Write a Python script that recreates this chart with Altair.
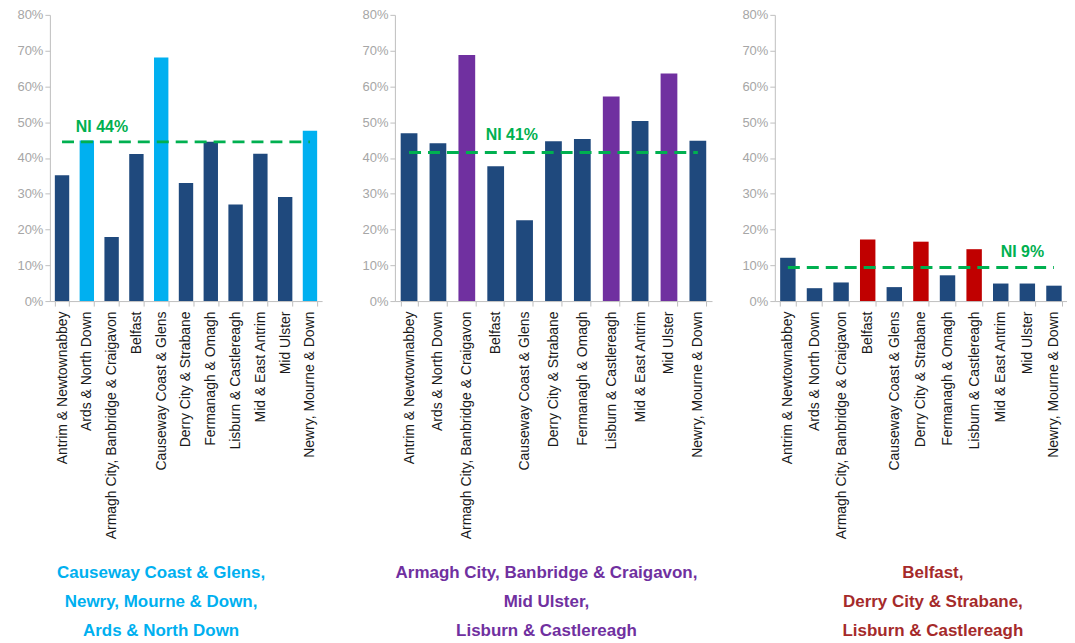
import altair as alt
import pandas as pd

districts = [
    "Antrim & Newtownabbey",
    "Ards & North Down",
    "Armagh City, Banbridge & Craigavon",
    "Belfast",
    "Causeway Coast & Glens",
    "Derry City & Strabane",
    "Fermanagh & Omagh",
    "Lisburn & Castlereagh",
    "Mid & East Antrim",
    "Mid Ulster",
    "Newry, Mourne & Down",
]

values_1 = [35.2, 44.9, 17.9, 41.1, 68.1, 33.0, 44.5, 27.0, 41.2, 29.1, 47.6]
values_2 = [46.9, 44.1, 68.8, 37.7, 22.6, 44.7, 45.3, 57.2, 50.3, 63.6, 44.8]
values_3 = [12.1, 3.6, 5.2, 17.2, 3.9, 16.6, 7.2, 14.5, 4.9, 4.9, 4.3]

ni_values = [44.5, 41.5, 9.4]
ni_labels = ["NI 44%", "NI 41%", "NI 9%"]
ni_label_anchor = ["Ards & North Down", "Belfast", "Mid Ulster"]

highlight_1 = ["Causeway Coast & Glens", "Newry, Mourne & Down", "Ards & North Down"]
highlight_2 = ["Armagh City, Banbridge & Craigavon", "Mid Ulster", "Lisburn & Castlereagh"]
highlight_3 = ["Belfast", "Derry City & Strabane", "Lisburn & Castlereagh"]

caption_1 = ["Causeway Coast & Glens,", "Newry, Mourne & Down,", "Ards & North Down"]
caption_2 = ["Armagh City, Banbridge & Craigavon,", "Mid Ulster,", "Lisburn & Castlereagh"]
caption_3 = ["Belfast,", "Derry City & Strabane,", "Lisburn & Castlereagh"]

y_ticks = [0, 0.1, 0.2, 0.3, 0.4, 0.5, 0.6, 0.7, 0.8]

NAVY = "#1F497D"
GREEN = "#00B050"
FONT = "Liberation Sans"


def panel(values, ni, ni_label, anchor, highlight, hcolor, tcolor, caption,
          width, extent, lab_align, lab_dx, lab_dy, title_dx):
    df = pd.DataFrame({"district": districts, "value": [v / 100 for v in values]})
    x = alt.X(
        "district:N",
        sort=districts,
        title=None,
        scale=alt.Scale(paddingInner=0.42, paddingOuter=0.2),
        axis=alt.Axis(
            labelAngle=270,
            labelFont=FONT,
            labelFontSize=14,
            labelColor="#1a1a1a",
            labelPadding=5,
            labelLimit=0,
            tickBand="extent",
            tickColor="#BFBFBF",
            domainColor="#BFBFBF",
            tickSize=5,
        ),
    )
    y = alt.Y(
        "value:Q",
        title=None,
        scale=alt.Scale(domain=[0, 0.8], nice=False),
        axis=alt.Axis(
            format=".0%",
            values=y_ticks,
            labelOverlap=False,
            grid=False,
            labelFont=FONT,
            labelFontSize=13,
            labelColor="#A6A6A6",
            tickColor="#BFBFBF",
            domainColor="#BFBFBF",
            tickSize=5,
            minExtent=extent,
            maxExtent=extent,
        ),
    )
    bars = alt.Chart(df).mark_bar().encode(
        x=x,
        y=y,
        color=alt.condition(
            alt.FieldOneOfPredicate(field="district", oneOf=highlight),
            alt.value(hcolor),
            alt.value(NAVY),
        ),
    )
    line_df = pd.DataFrame({"district": [districts[0], districts[-1]], "value": [ni / 100] * 2})
    line = alt.Chart(line_df).mark_line(
        color=GREEN, strokeDash=[12, 7], strokeWidth=3
    ).encode(x=x, y=y)
    lab_df = pd.DataFrame({"district": [anchor], "value": [ni / 100], "label": [ni_label]})
    label = alt.Chart(lab_df).mark_text(
        align=lab_align, dx=lab_dx, dy=lab_dy, fontSize=16, fontWeight="bold",
        font=FONT, color=GREEN,
    ).encode(x=x, y=y, text="label:N")
    return alt.layer(bars, line, label).properties(
        width=width,
        height=287,
        title=alt.TitleParams(
            text=caption,
            orient="bottom",
            anchor="middle",
            frame="group",
            color=tcolor,
            font=FONT,
            fontSize=17,
            fontWeight="bold",
            lineHeight=29,
            offset=26,
            dx=title_dx,
        ),
    )


p1 = panel(values_1, ni_values[0], ni_labels[0], ni_label_anchor[0], highlight_1,
           "#00B0F0", "#00B0F0", caption_1, 273, 42, "left", -11, -15, -25)
p2 = panel(values_2, ni_values[1], ni_labels[1], ni_label_anchor[1], highlight_2,
           "#7030A0", "#7030A0", caption_2, 318, 53, "left", -10, -18, -7)
p3 = panel(values_3, ni_values[2], ni_labels[2], ni_label_anchor[2], highlight_3,
           "#C00000", "#A52A2A", caption_3, 293, 43, "center", -5, -15, 12)

chart = alt.hconcat(p1, p2, p3, spacing=20).properties(
    padding={"left": 0, "top": 0, "right": 0, "bottom": 0}
).configure_view(stroke=None)

chart.save("out.html", embed_options={"renderer": "svg", "actions": False})
